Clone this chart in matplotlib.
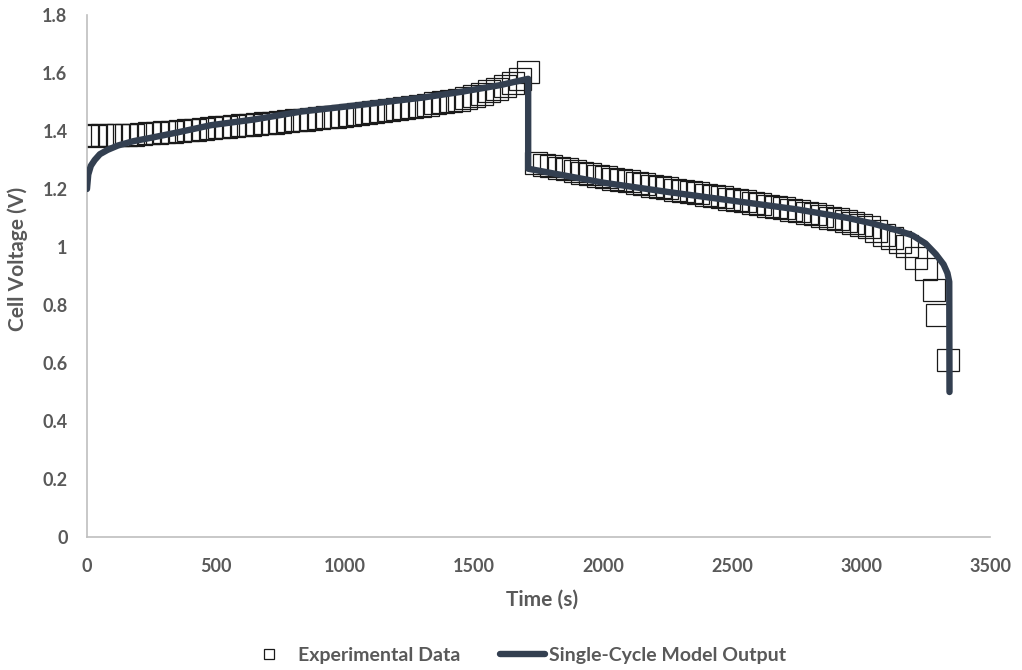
import matplotlib.pyplot as plt
from matplotlib.lines import Line2D

# experimental data (charge then discharge)
exp_time = [0, 30, 60, 90, 120, 150, 180, 210, 240, 270, 300, 330, 360, 390, 420, 450,
            480, 510, 540, 570, 600, 630, 660, 690, 720, 750, 780, 810, 840, 870, 900,
            930, 960, 990, 1020, 1050, 1080, 1110, 1140, 1170, 1200, 1230, 1260, 1290,
            1320, 1350, 1380, 1410, 1440, 1470, 1500, 1530, 1560, 1590, 1620, 1650, 1680,
            1710,
            1740, 1770, 1800, 1830, 1860, 1890, 1920, 1950, 1980, 2010, 2040, 2070, 2100,
            2130, 2160, 2190, 2220, 2250, 2280, 2310, 2340, 2370, 2400, 2430, 2460, 2490,
            2520, 2550, 2580, 2610, 2640, 2670, 2700, 2730, 2760, 2790, 2820, 2850, 2880,
            2910, 2940, 2970, 3000, 3030, 3060, 3090, 3120, 3150, 3180, 3215, 3250, 3282,
            3296, 3337]
exp_volt = [1.385, 1.384, 1.386, 1.385, 1.386, 1.387, 1.386, 1.389, 1.392, 1.394, 1.396,
            1.398, 1.400, 1.403, 1.405, 1.408, 1.411, 1.413, 1.415, 1.418, 1.420, 1.421,
            1.424, 1.426, 1.428, 1.431, 1.434, 1.437, 1.439, 1.441, 1.444, 1.447, 1.450,
            1.453, 1.456, 1.459, 1.462, 1.465, 1.468, 1.471, 1.475, 1.478, 1.482, 1.486,
            1.491, 1.496, 1.500, 1.504, 1.508, 1.513, 1.519, 1.527, 1.537, 1.546, 1.556,
            1.565, 1.578, 1.603,
            1.290, 1.284, 1.279, 1.274, 1.268, 1.262, 1.256, 1.251, 1.246, 1.241, 1.236,
            1.231, 1.226, 1.221, 1.216, 1.212, 1.207, 1.203, 1.198, 1.194, 1.189, 1.185,
            1.180, 1.176, 1.171, 1.167, 1.162, 1.157, 1.153, 1.148, 1.143, 1.138, 1.133,
            1.128, 1.123, 1.118, 1.113, 1.107, 1.101, 1.096, 1.091, 1.084, 1.077, 1.068,
            1.055, 1.043, 1.030, 1.017, 1.003, 0.962, 0.924, 0.852, 0.766, 0.610]

# single-cycle model output
model_time = [0, 5, 15, 30, 50, 80, 120, 180, 250, 350, 480, 650, 830, 1060, 1300, 1450,
              1600, 1710, 1710, 1800, 2000, 2250, 2500, 2750, 2950, 3050, 3150, 3200, 3250,
              3290, 3320, 3335, 3342, 3343]
model_volt = [1.20, 1.25, 1.28, 1.30, 1.32, 1.335, 1.35, 1.365, 1.377, 1.395, 1.42, 1.44,
              1.467, 1.49, 1.515, 1.535, 1.558, 1.58, 1.27, 1.255, 1.222, 1.19, 1.16, 1.13,
              1.10, 1.08, 1.055, 1.04, 1.012, 0.975, 0.94, 0.91, 0.88, 0.50]

xticks = [0, 500, 1000, 1500, 2000, 2500, 3000, 3500]
yticks = [0, 0.2, 0.4, 0.6, 0.8, 1, 1.2, 1.4, 1.6, 1.8]
ytick_labels = ['0', '0.2', '0.4', '0.6', '0.8', '1', '1.2', '1.4', '1.6', '1.8']

text_gray = '#595959'
line_col = '#333F50'
plt.rcParams['font.family'] = ['Lato', 'DejaVu Sans']

fig = plt.figure(figsize=(10.22, 6.7), dpi=100)
ax = fig.add_axes([0.0851, 0.1985, 0.8836, 0.7791])

ax.plot(exp_time, exp_volt, linestyle='none', marker='s', ms=15.5,
        mfc='none', mec='#1a1a1a', mew=0.9, zorder=2)
ax.plot(model_time, model_volt, color=line_col, lw=4.6, solid_capstyle='round',
        solid_joinstyle='round', zorder=3)

ax.set_xlim(0, 3500)
ax.set_ylim(0, 1.8)
ax.set_xticks(xticks)
ax.set_yticks(yticks)
ax.set_yticklabels(ytick_labels)
ax.tick_params(length=0, colors=text_gray, labelsize=13)
ax.tick_params(axis='y', pad=14)
ax.tick_params(axis='x', pad=15)
for lab in ax.get_xticklabels() + ax.get_yticklabels():
    lab.set_fontweight('bold')

for s in ['top', 'right']:
    ax.spines[s].set_visible(False)
for s in ['left', 'bottom']:
    ax.spines[s].set_color('#BFBFBF')
    ax.spines[s].set_linewidth(1.2)

ax.set_xlabel('Time (s)', fontsize=15, fontweight='bold', color=text_gray)
ax.set_ylabel('Cell Voltage (V)', fontsize=15, fontweight='bold', color=text_gray)
ax.xaxis.set_label_coords(0.504, -0.100)
ax.yaxis.set_label_coords(-0.065, 0.533)

# legend in two pieces to get the spacing of the original
h1 = Line2D([], [], linestyle='none', marker='s', ms=7, mfc='none', mec='#1a1a1a', mew=0.9)
h2 = Line2D([], [], color=line_col, lw=4.6, solid_capstyle='round')
leg_kw = dict(frameon=False, borderpad=0, borderaxespad=0, labelcolor=text_gray,
              prop={'size': 14, 'weight': 'bold'})
fig.legend([h1], ['Experimental Data'], loc='center left',
           bbox_to_anchor=(261 / 1022, 1 - 655 / 670), handlelength=0.8,
           handletextpad=1.1, **leg_kw)
fig.legend([h2], ['Single-Cycle Model Output'], loc='center left',
           bbox_to_anchor=(500 / 1022, 1 - 655 / 670), handlelength=2.3,
           handletextpad=0.2, **leg_kw)

fig.savefig('out.png', dpi=100)
